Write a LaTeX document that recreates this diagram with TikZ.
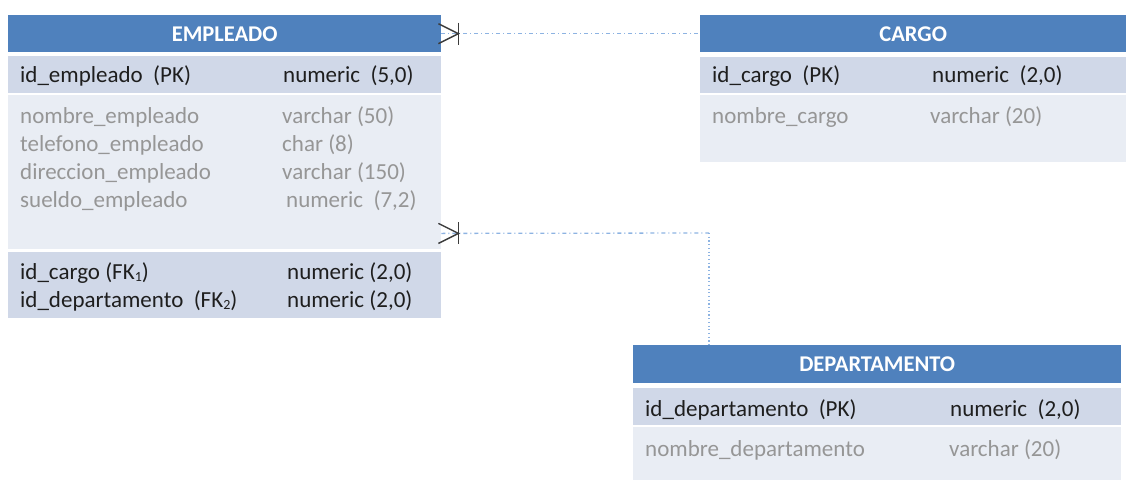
\documentclass[tikz,border=0pt]{standalone}
\usepackage{fontspec}
\setmainfont{Carlito}
\usetikzlibrary{calc}
\definecolor{hdrblue}{RGB}{79,129,189}
\definecolor{pkfill}{RGB}{208,216,232}
\definecolor{attrfill}{RGB}{233,237,244}
\definecolor{attrgray}{RGB}{150,150,150}
\definecolor{keytext}{RGB}{30,30,30}
\definecolor{relblue}{RGB}{141,179,226}
\definecolor{crowgray}{RGB}{60,60,60}
\newcommand{\sbs}[1]{\raisebox{-2pt}{\fontsize{14}{14}\selectfont #1}}
\begin{document}
\begin{tikzpicture}[x=1pt,y=-1pt,
  every node/.style={font=\fontsize{23}{27}\selectfont},
  hdr/.style={fill=hdrblue, text=white, font=\fontsize{22.5}{26}\selectfont\bfseries, inner sep=0, anchor=north west},
  pkrow/.style={fill=pkfill, inner sep=0, anchor=north west},
  attrrow/.style={fill=attrfill, inner sep=0, anchor=north west},
  keytxt/.style={anchor=base west, inner sep=0, text=keytext},
  attrtxt/.style={anchor=base west, inner sep=0, text=attrgray},
  rel/.style={draw=relblue, line width=1.3pt, dash pattern=on 4pt off 3pt on 1pt off 3pt},
  reldot/.style={draw=relblue, line width=1.3pt, dash pattern=on 1.2pt off 2.5pt},
  crow/.style={draw=crowgray, line width=1.4pt}
]
\useasboundingbox (0,0) rectangle (1126,487);

% EMPLEADO
\node[hdr, minimum width=433, minimum height=37] (emp) at (8,15) {EMPLEADO};
\node[pkrow, minimum width=433, minimum height=37] (empPK) at (8,56) {};
\node[attrrow, minimum width=433, minimum height=154] (empAttr) at (8,95) {};
\node[pkrow, minimum width=433, minimum height=66] (empFK) at (8,252) {};

\node[keytxt] (e1a) at (20,82) {id\_empleado\ \ (PK)};
\node[keytxt] (e1b) at (283,82) {numeric\ \ (5,0)};
\node[attrtxt] (e2a) at (20,123) {nombre\_empleado};
\node[attrtxt] (e2b) at (282,123) {varchar (50)};
\node[attrtxt] (e3a) at (20,151) {telefono\_empleado};
\node[attrtxt] (e3b) at (282,151) {char (8)};
\node[attrtxt] (e4a) at (20,179) {direccion\_empleado};
\node[attrtxt] (e4b) at (282,179) {varchar (150)};
\node[attrtxt] (e5a) at (20,207) {sueldo\_empleado};
\node[attrtxt] (e5b) at (286,207) {numeric\ \ (7,2)};
\node[keytxt] (e6a) at (20,279) {id\_cargo (FK\sbs{1})};
\node[keytxt] (e6b) at (287,279) {numeric (2,0)};
\node[keytxt] (e7a) at (20,307) {id\_departamento\ \ (FK\sbs{2})};
\node[keytxt] (e7b) at (287,307) {numeric (2,0)};

% CARGO
\node[hdr, minimum width=426, minimum height=37] (cargo) at (700,15) {CARGO};
\node[pkrow, minimum width=426, minimum height=36] (cargoPK) at (700,57) {};
\node[attrrow, minimum width=426, minimum height=67] (cargoAttr) at (700,95) {};
\node[keytxt] (c1a) at (712,82) {id\_cargo\ \ (PK)};
\node[keytxt] (c1b) at (932,82) {numeric\ \ (2,0)};
\node[attrtxt] (c2a) at (712,123) {nombre\_cargo};
\node[attrtxt] (c2b) at (930,123) {varchar (20)};

% DEPARTAMENTO
\node[hdr, minimum width=488, minimum height=38] (dep) at (633,345) {DEPARTAMENTO};
\node[pkrow, minimum width=488, minimum height=37] (depPK) at (633,388) {};
\node[attrrow, minimum width=488, minimum height=53] (depAttr) at (633,427) {};
\node[keytxt] (d1a) at (645,416) {id\_departamento\ \ (PK)};
\node[keytxt] (d1b) at (950,416) {numeric\ \ (2,0)};
\node[attrtxt] (d2a) at (645,456) {nombre\_departamento};
\node[attrtxt] (d2b) at (949,456) {varchar (20)};

% Relationship EMPLEADO - CARGO
\draw[rel] (emp.east) -- (cargo.west);
\coordinate (f1) at ($(emp.east)+(17,0)$);
\draw[crow] ($(emp.east)+(-3,-10)$) -- (f1) -- ($(emp.east)+(-3,10)$);
\draw[crow] ($(f1)+(0,-11)$) -- ($(f1)+(0,11)$);

% Relationship EMPLEADO - DEPARTAMENTO
\coordinate (a2) at ($(empAttr.south east)+(0,-16)$);
\coordinate (k2) at (709,233);
\draw[rel] (a2) -- (k2);
\draw[reldot] (k2) -- (k2 |- dep.north);
\coordinate (f2) at ($(a2)+(17,0)$);
\draw[crow] ($(a2)+(-3,-10)$) -- (f2) -- ($(a2)+(-3,10)$);
\draw[crow] ($(f2)+(0,-11)$) -- ($(f2)+(0,11)$);
\end{tikzpicture}
\end{document}
